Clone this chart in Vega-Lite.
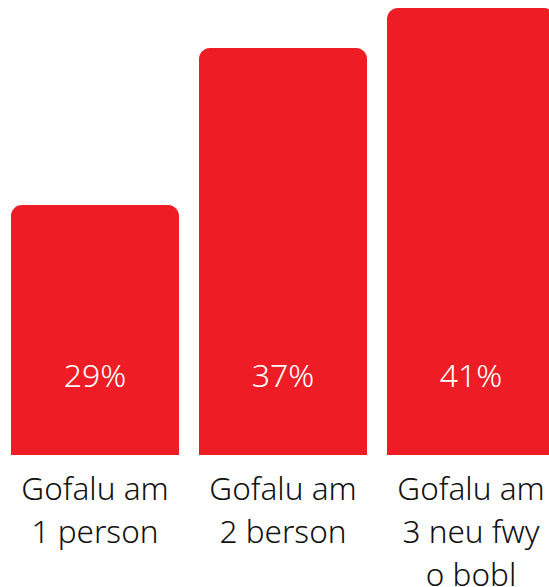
{
  "$schema": "https://vega.github.io/schema/vega-lite/v6.json",
  "width": 549,
  "height": 455,
  "autosize": {"type": "none"},
  "padding": {"left": 0, "top": 0, "right": 0, "bottom": 132},
  "background": "white",
  "config": {"view": {"stroke": null}, "font": "Noto Sans"},
  "data": {
    "values": [
      {"category": "Gofalu am\n1 person", "value": 29, "label": "29%"},
      {"category": "Gofalu am\n2 berson", "value": 37, "label": "37%"},
      {"category": "Gofalu am\n3 neu fwy\no bobl", "value": 41, "label": "41%"}
    ]
  },
  "encoding": {
    "x": {
      "field": "category",
      "type": "nominal",
      "sort": null,
      "scale": {"range": [0, 566], "paddingInner": 0.1064, "paddingOuter": 0.0585},
      "axis": {
        "title": null,
        "domain": false,
        "ticks": false,
        "tickSize": 0,
        "labelAngle": 0,
        "labelFont": "Noto Sans",
        "labelFontSize": 31.5,
        "labelFontWeight": 300,
        "labelColor": "#111111",
        "labelBaseline": "alphabetic",
        "labelPadding": 44,
        "labelLineHeight": 43,
        "labelLimit": 0,
        "labelOverlap": false,
        "labelBound": false,
        "labelFlush": false,
        "labelExpr": "split(datum.value, '\\n')"
      }
    }
  },
  "layer": [
    {
      "mark": {"type": "bar", "color": "#ee1d25", "cornerRadiusTopLeft": 11, "cornerRadiusTopRight": 11},
      "encoding": {
        "y": {
          "field": "value",
          "type": "quantitative",
          "scale": {"domain": [0, 29, 37, 41], "range": [455, 205, 48, 8], "zero": false, "nice": false},
          "axis": null
        }
      }
    },
    {
      "mark": {"type": "text", "color": "white", "font": "Noto Sans", "fontSize": 32, "fontWeight": 300, "baseline": "alphabetic", "align": "center", "dy": -68},
      "encoding": {
        "y": {"datum": 0, "type": "quantitative"},
        "text": {"field": "label"}
      }
    }
  ]
}
